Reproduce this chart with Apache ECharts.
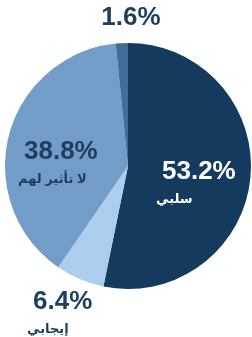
<!DOCTYPE html>
<html lang="ar">
<head>
    <meta charset="UTF-8">
    <title>pie</title>
    <style>
        body { margin: 0; padding: 0; background: #ffffff; }
        #chart { width: 252px; height: 337px; }
    </style>
</head>
<body>
    <div id="chart"></div>
    <script src="https://cdn.jsdelivr.net/npm/echarts@6/dist/echarts.min.js"></script>
    <script>
        // data
        var names = ['سلبي', 'إيجابي', 'لا تأثير لهم', ''];
        var values = [53.2, 6.4, 38.8, 1.6];
        var colors = ['#143a5e', '#abcdee', '#729dc8', '#416d98'];
        var labelColors = ['#ffffff', '#1e3e5f', '#1e3e5f', '#1e3e5f'];
        // label anchor spots (x, y, align)
        var labelSpots = [
            { x: 156, y: 158, align: 'left' },
            { x: 27, y: 288, align: 'left' },
            { x: 18, y: 138, align: 'left' },
            { x: 128, y: 4, align: 'center' }
        ];

        var chart = echarts.init(document.getElementById('chart'));
        var font = 'Liberation Sans, Arial, DejaVu Sans, sans-serif';

        var data = values.map(function (v, i) {
            return {
                name: names[i],
                value: v,
                itemStyle: { color: colors[i] },
                label: {
                    rich: {
                        v: { color: labelColors[i], fontSize: 26, fontWeight: 'bold', fontFamily: font, lineHeight: 28, padding: [0, 0, 0, 6] },
                        n: { color: labelColors[i], fontSize: 13, fontWeight: 'bold', fontFamily: font, lineHeight: 26 }
                    }
                }
            };
        });

        var option = {
            animation: false,
            series: [{
                type: 'pie',
                center: [128, 166],
                radius: 123,
                startAngle: 90,
                clockwise: true,
                avoidLabelOverlap: false,
                itemStyle: { borderWidth: 0 },
                label: {
                    show: true,
                    position: 'inside',
                    formatter: function (p) {
                        var t = '{v|' + p.value.toFixed(1) + '%}';
                        if (p.name) t += '\n{n|' + p.name + '}';
                        return t;
                    }
                },
                labelLine: { show: false },
                labelLayout: function (p) {
                    var s = labelSpots[p.dataIndex];
                    return { x: s.x, y: s.y, align: s.align, verticalAlign: 'top' };
                },
                data: data
            }]
        };

        chart.setOption(option);
    </script>
</body>
</html>
